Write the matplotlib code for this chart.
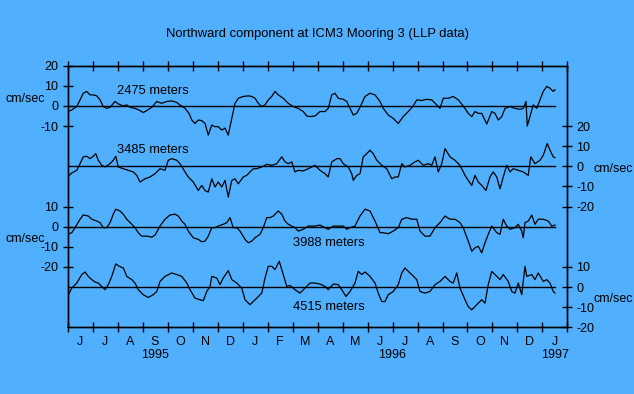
import matplotlib
matplotlib.use("Agg")
import matplotlib.pyplot as plt
import matplotlib.transforms as mtransforms

# time axis: months since 1 June 1995
month_labels = ["J", "J", "A", "S", "O", "N", "D", "J", "F", "M",
                "A", "M", "J", "J", "A", "S", "O", "N", "D", "J"]
year_labels = ["1995", "1996", "1997"]
year_pos = [3.5, 13.0, 19.5]

depths = ["2475 meters", "3485 meters", "3988 meters", "4515 meters"]

t_2475 = [0.0, 0.17, 0.37, 0.5, 0.63, 0.77, 0.9, 1.03, 1.17, 1.3,
          1.43, 1.57, 1.7, 1.9, 2.03, 2.23, 2.37, 2.5, 2.7, 2.9,
          3.03, 3.17, 3.37, 3.57, 3.77, 3.97, 4.17, 4.37, 4.5, 4.7,
          4.86, 4.97, 5.1, 5.23, 5.37, 5.5, 5.63, 5.77, 5.9, 6.03,
          6.17, 6.3, 6.43, 6.57, 6.7, 6.83, 7.03, 7.23, 7.37, 7.5,
          7.63, 7.77, 7.9, 8.03, 8.17, 8.3, 8.43, 8.63, 8.83, 9.03,
          9.23, 9.43, 9.57, 9.7,
          9.9, 10.1, 10.3, 10.43, 10.57, 10.7, 10.83, 11.03, 11.17, 11.3,
          11.43, 11.57, 11.7, 11.9, 12.1, 12.3, 12.5, 12.63, 12.83, 13.03,
          13.23, 13.43, 13.63, 13.83, 13.97, 14.17, 14.37, 14.57, 14.77, 14.9,
          15.03, 15.23, 15.43, 15.63, 15.83, 16.03, 16.17, 16.3, 16.43, 16.57,
          16.77, 16.97, 17.1, 17.23, 17.37, 17.5, 17.7, 17.9, 18.1, 18.23,
          18.34, 18.39, 18.5, 18.63, 18.77, 18.9, 19.03, 19.17, 19.3, 19.43, 19.5]
v_2475 = [-2.8, -2, -0.3, 3, 6.3, 7.2, 5.5, 5.5, 5, 3,
          -0.3, -1.2, -0.7, 2.2, 1, 0, 0.5, -0.7, -1.2, -2.3,
          -3.3, -2.3, -0.7, 2.2, 1.3, 2.2, 2.5, 1.7, 0.5, -1.2,
          -3.7, -7, -8.7, -7, -7.3, -8.7, -14.5, -9.5, -10.3, -10.3,
          -12, -11, -14.5, -6.2, 1.3, 3.8, 4.7, 5, 4.7, 3.8,
          1.3, -0.3, 0.5, 3, 4.7, 7.2, 5.5, 3.8, 1.3, -0.3,
          -1.2, -2.8, -5, -5.3,
          -5, -2.8, -2.8, -1.2, 5.5, 6.3, 3.8, 3.3, 2.2, -1.2,
          -4.5, -3.7, -0.7, 4.7, 6.3, 5.5, 2.2, -1.2, -4.5, -6.2,
          -8.7, -5.3, -2.8, 0, 3, 2.7, 3.3, 3, 0.5, -1.2,
          3.8, 3.8, 4.7, 3, 0, -3.7, -5.3, -2.8, -3.7, -3.7,
          -9, -2.8, -3.7, -7, -5.3, -1.2, -0.3, -1.2, -1.7, -1.2,
          2.2, -10, -5.3, 0.5, -1.2, 3, 7.2, 9.7, 8.8, 7.2, 8]

t_3485 = [0.0, 0.17, 0.37, 0.5, 0.63, 0.77, 0.9, 1.03, 1.13, 1.23,
          1.37, 1.5, 1.7, 1.83, 1.93, 2.03, 2.23, 2.43, 2.63, 2.77,
          2.9, 3.1, 3.3, 3.5, 3.7, 3.9, 4.03, 4.17, 4.37, 4.5,
          4.7, 4.83, 5.03, 5.23, 5.37, 5.5, 5.63, 5.77, 5.9, 6.03,
          6.17, 6.3, 6.43, 6.57, 6.7, 6.83, 7.03, 7.17, 7.3, 7.43,
          7.57, 7.77, 7.97, 8.17, 8.37, 8.57, 8.7, 8.83, 8.97, 9.1,
          9.23, 9.43, 9.63,
          9.9, 10.1, 10.3, 10.43, 10.57, 10.77, 10.9, 11.03, 11.23, 11.37,
          11.43, 11.57, 11.7, 11.83, 11.97, 12.1, 12.23, 12.37, 12.57, 12.77,
          12.97, 13.1, 13.23, 13.37, 13.5, 13.7, 13.9, 14.03, 14.23, 14.43,
          14.57, 14.7, 14.83, 14.97, 15.1, 15.3, 15.5, 15.7, 15.9, 16.03,
          16.17, 16.3, 16.43, 16.57, 16.74, 16.9, 17.03, 17.17, 17.3, 17.43,
          17.57, 17.7, 17.83, 18.03, 18.23, 18.43, 18.53, 18.7, 18.9, 19.03,
          19.19, 19.3, 19.43, 19.5]
v_3485 = [-5.3, -3.3, -2, 1.3, 4.7, 5, 3.8, 5, 6.3, 3,
          0.5, -0.3, 1.3, 3, 5, -0.3, -1.2, -2, -2.8, -4.5,
          -7.8, -6.2, -5.3, -3.7, -1.2, -2, 3, 3.8, 3, 1.3,
          -2.8, -5.3, -7.8, -12, -9.5, -12, -12.8, -6.2, -10.3, -7.8,
          -10.3, -7, -15.3, -7, -6.2, -8.7, -5.3, -4.5, -2.8, -1.2,
          -1.2, -0.3, 1, 0.5, 1.3, 4.7, 2.2, 1.3, 2.2, -2.8,
          -2, -2.3, -1.2,
          0.5, -2, -3.7, -5.3, 2.2, 3.8, 3.8, 1.3, -0.3, -3.7,
          -7, -4.5, -3.7, 4.7, 6.3, 8, 6.3, 3, 0.5, -1.2,
          -6.2, -5.3, -5.3, 1.3, -0.3, 0.5, 2.2, 3, 0.5, 1.3,
          0.5, 4.7, -2.8, 1.3, 8.8, 4.7, 3, 0.5, -4.5, -7,
          -9.5, -4.5, -7.8, -9.5, -12, -5.3, -2.8, -5.3, -11.2, -5.3,
          0.5, -2.8, -1.2, -2, -2.8, -4.5, 4.7, 1.3, 3, 5.5,
          11.3, 8, 4.7, 4.3]

t_3988 = [0.0, 0.17, 0.3, 0.5, 0.63, 0.83, 0.97, 1.17, 1.3, 1.43,
          1.57, 1.7, 1.83, 1.93, 2.1, 2.23, 2.37, 2.57, 2.7, 2.83,
          2.97, 3.17, 3.37, 3.5, 3.7, 3.9, 4.1, 4.3, 4.43, 4.57,
          4.7, 4.83, 5.03, 5.23, 5.37, 5.5, 5.63, 5.77, 5.9, 6.03,
          6.23, 6.37, 6.5, 6.63, 6.77, 6.9, 7.1, 7.23, 7.37, 7.5,
          7.7, 7.83, 7.97, 8.1, 8.23, 8.43, 8.57, 8.7, 8.83, 8.97,
          9.1, 9.23, 9.43, 9.63,
          9.9, 10.1, 10.3, 10.43, 10.63, 10.83, 11.03, 11.17, 11.3, 11.5,
          11.7, 11.9, 12.1, 12.3, 12.5, 12.63, 12.83, 13.03, 13.23, 13.37,
          13.57, 13.77, 13.97, 14.1, 14.3, 14.5, 14.7, 14.9, 15.1, 15.3,
          15.5, 15.7, 15.83, 16.03, 16.17, 16.3, 16.43, 16.57, 16.7, 16.83,
          16.97, 17.17, 17.3, 17.43, 17.57, 17.7, 17.9, 18.03, 18.17, 18.23,
          18.3, 18.43, 18.57, 18.7, 18.83, 19.03, 19.23, 19.37, 19.5]
v_3988 = [-3.8, -3, -0.5, 3.7, 5.8, 5.3, 3.7, 2.8, 2, -0.5,
          -0.5, 2, 6.2, 8.7, 7.8, 6.2, 3.7, 1.2, -0.5, -3,
          -4.7, -4.7, -5.2, -4.2, 0.3, 3.7, 5.8, 6.2, 5.3, 2.8,
          1.2, -2.2, -5.5, -6.3, -7.5, -7.2, -4.7, -0.5, -0.5, 0.3,
          1.2, 2, 4.5, -0.5, -0.5, -2.2, -6.3, -8, -7.2, -5.5,
          -3.8, -0.5, 4.5, 4.5, 5.3, 7.8, 6.2, 2.8, 1.2, 0.3,
          -0.5, -2.2, -1.3, 0.3,
          0.3, 0.8, -0.5, -1.3, 0.3, 0.3, 0.3, -1.3, -0.5, 0.3,
          5.3, 8.7, 7.8, 2.8, -3, -3, -3.5, -2.2, -0.5, 3.7,
          4.5, 3.7, 3.7, -2.2, -4.7, -4.7, -0.5, 2, 5.3, 3.7,
          3.7, 2, -0.5, -7.2, -12.2, -10.5, -9.7, -13, -8, -3.8,
          0.3, -3, -3.8, 3.7, 0.3, -1.3, -0.5, 1.2, -2.2, -5.5,
          2, 2.8, 5.8, 1.2, 3.7, 3.7, 2.8, 0.3, 0.8]

t_4515 = [0.0, 0.17, 0.37, 0.57, 0.7, 0.83, 0.97, 1.1, 1.23, 1.37,
          1.5, 1.63, 1.77, 1.93, 2.07, 2.23, 2.37, 2.57, 2.7, 2.83,
          3.03, 3.23, 3.43, 3.57, 3.7, 3.9, 4.17, 4.37, 4.57, 4.77,
          4.9, 5.1, 5.3, 5.43, 5.57, 5.7, 5.77, 5.97, 6.1, 6.23,
          6.43, 6.57, 6.77, 6.97, 7.1, 7.3, 7.43, 7.57, 7.77, 7.9,
          8.03, 8.17, 8.3, 8.47, 8.63, 8.77, 8.9, 9.1, 9.3, 9.5, 9.7,
          9.9, 10.1, 10.3, 10.43, 10.63, 10.83, 10.97, 11.14, 11.3, 11.5,
          11.63, 11.77, 11.9, 12.1, 12.3, 12.43, 12.57, 12.7, 12.83, 13.03,
          13.23, 13.37, 13.5, 13.63, 13.77, 13.97, 14.1, 14.3, 14.5, 14.7,
          14.9, 15.1, 15.3, 15.43, 15.57, 15.7, 15.9, 16.03, 16.17, 16.3,
          16.43, 16.57, 16.7, 16.83, 16.97, 17.1, 17.3, 17.43, 17.63, 17.77,
          17.9, 18.03, 18.17, 18.3, 18.37, 18.57, 18.7, 18.83, 19.03, 19.17,
          19.3, 19.43, 19.5]
v_4515 = [-4.7, -0.5, 2, 6.2, 7.5, 5.3, 3.7, 2.5, 2, 0.3,
          -1.3, 1.2, 5.3, 11.5, 10.3, 9.5, 5.3, 3.7, 2, -1.3,
          -3.8, -5.2, -3.8, -2.2, 2.8, 5.3, 7, 6.2, 5.3, 2,
          -1.3, -5.5, -6.3, -6.8, -2.2, 0.3, 5.3, 4.5, 1.2, 4.5,
          8.2, 3.7, 2, -0.5, -6.3, -8.8, -7.2, -5.5, -3, 4.5,
          10.3, 10.3, 8.7, 12.8, 6.2, 0.3, 0.8, -1.3, -3, -0.5, 2,
          2, 1.5, 0.3, -1.3, 1.5, 1.2, -1.3, -4.7, -2.2, 2,
          7.8, 6.2, 7.5, 5.3, 2, -3, -7.2, -7.2, -3.8, -2.2,
          1.2, 7, 9.5, 7.8, 6.2, 3.7, -2.2, -3, -2.2, 1.2,
          2.8, 5.3, 2.8, 2, 7, -0.5, -6.3, -9.7, -11.3, -9.7,
          -8, -6.3, -8, 1.2, 7.8, 6.2, 3.7, 6.2, 2.8, -2.2,
          -3, 2, -3.8, 10.3, 5.3, 6.2, 3.7, 7, 2.8, 3.7,
          2, -2.2, -3]

series_t = [t_2475, t_3485, t_3988, t_4515]
series_v = [v_2475, v_3485, v_3988, v_4515]
offsets = [0, -30, -60, -90]
label_pos = [(1.98, 8), (1.98, -21.3), (9.02, -67.3), (9.02, -99.3)]

bg = "#50AFFF"
plt.rcParams["font.family"] = ["Liberation Sans", "DejaVu Sans"]

fig = plt.figure(figsize=(6.34, 3.94), dpi=100, facecolor=bg)
ax = fig.add_axes([0.1065, 0.1693, 0.7886, 0.664])
ax.set_facecolor(bg)

for t, v, off, name, (lx, ly) in zip(series_t, series_v, offsets, depths, label_pos):
    ax.plot(t, [x + off for x in v], color="black", lw=0.9)
    ax.plot([0, t[-1]], [off, off], color="black", lw=1.0)
    ax.text(lx, ly, name, fontsize=9.3, ha="left", va="center_baseline")

ax.set_xlim(0, 20)
ax.set_ylim(-110, 20)

# month boundaries as ticks, labels centred in each month
ax.set_xticks(range(21))
ax.set_xticklabels([])
ax.set_xticks([i + 0.5 for i in range(20)], minor=True)
ax.set_xticklabels(month_labels, minor=True, fontsize=9)
ax.tick_params(axis="x", which="major", direction="inout", length=7, width=1,
               top=True, bottom=True)
ax.tick_params(axis="x", which="minor", length=0, pad=6)

trans = mtransforms.blended_transform_factory(ax.transData, ax.transAxes)
for lab, xp in zip(year_labels, year_pos):
    ax.text(xp, -0.105, lab, transform=trans, ha="center", va="center", fontsize=9)

# left axis: series 1 and 3
ax.set_yticks([20, 10, 0, -10, -50, -60, -70, -80])
ax.set_yticklabels(["20", "10", "0", "-10", "10", "0", "-10", "-20"], fontsize=9)
ax.tick_params(axis="y", direction="inout", length=7, width=1, pad=3)

# right axis: series 2 and 4
ax2 = ax.twinx()
ax2.set_ylim(-110, 20)
ax2.set_yticks([-10, -20, -30, -40, -50, -80, -90, -100, -110])
ax2.set_yticklabels(["20", "10", "0", "-10", "-20", "10", "0", "-10", "-20"], fontsize=9)
ax2.tick_params(axis="y", direction="inout", length=7, width=1, pad=3)

for a in (ax, ax2):
    for s in a.spines.values():
        s.set_linewidth(1.0)

fig.text(6 / 634, 1 - 97 / 394, "cm/sec", fontsize=9, ha="left", va="center_baseline")
fig.text(6 / 634, 1 - 237 / 394, "cm/sec", fontsize=9, ha="left", va="center_baseline")
fig.text(594 / 634, 1 - 167 / 394, "cm/sec", fontsize=9, ha="left", va="center_baseline")
fig.text(594 / 634, 1 - 297 / 394, "cm/sec", fontsize=9, ha="left", va="center_baseline")

fig.text(0.5, 1 - 33 / 394, "Northward component at ICM3 Mooring 3 (LLP data)",
         fontsize=9.4, ha="center", va="center_baseline")

fig.savefig("out.png", dpi=100, facecolor=bg)
